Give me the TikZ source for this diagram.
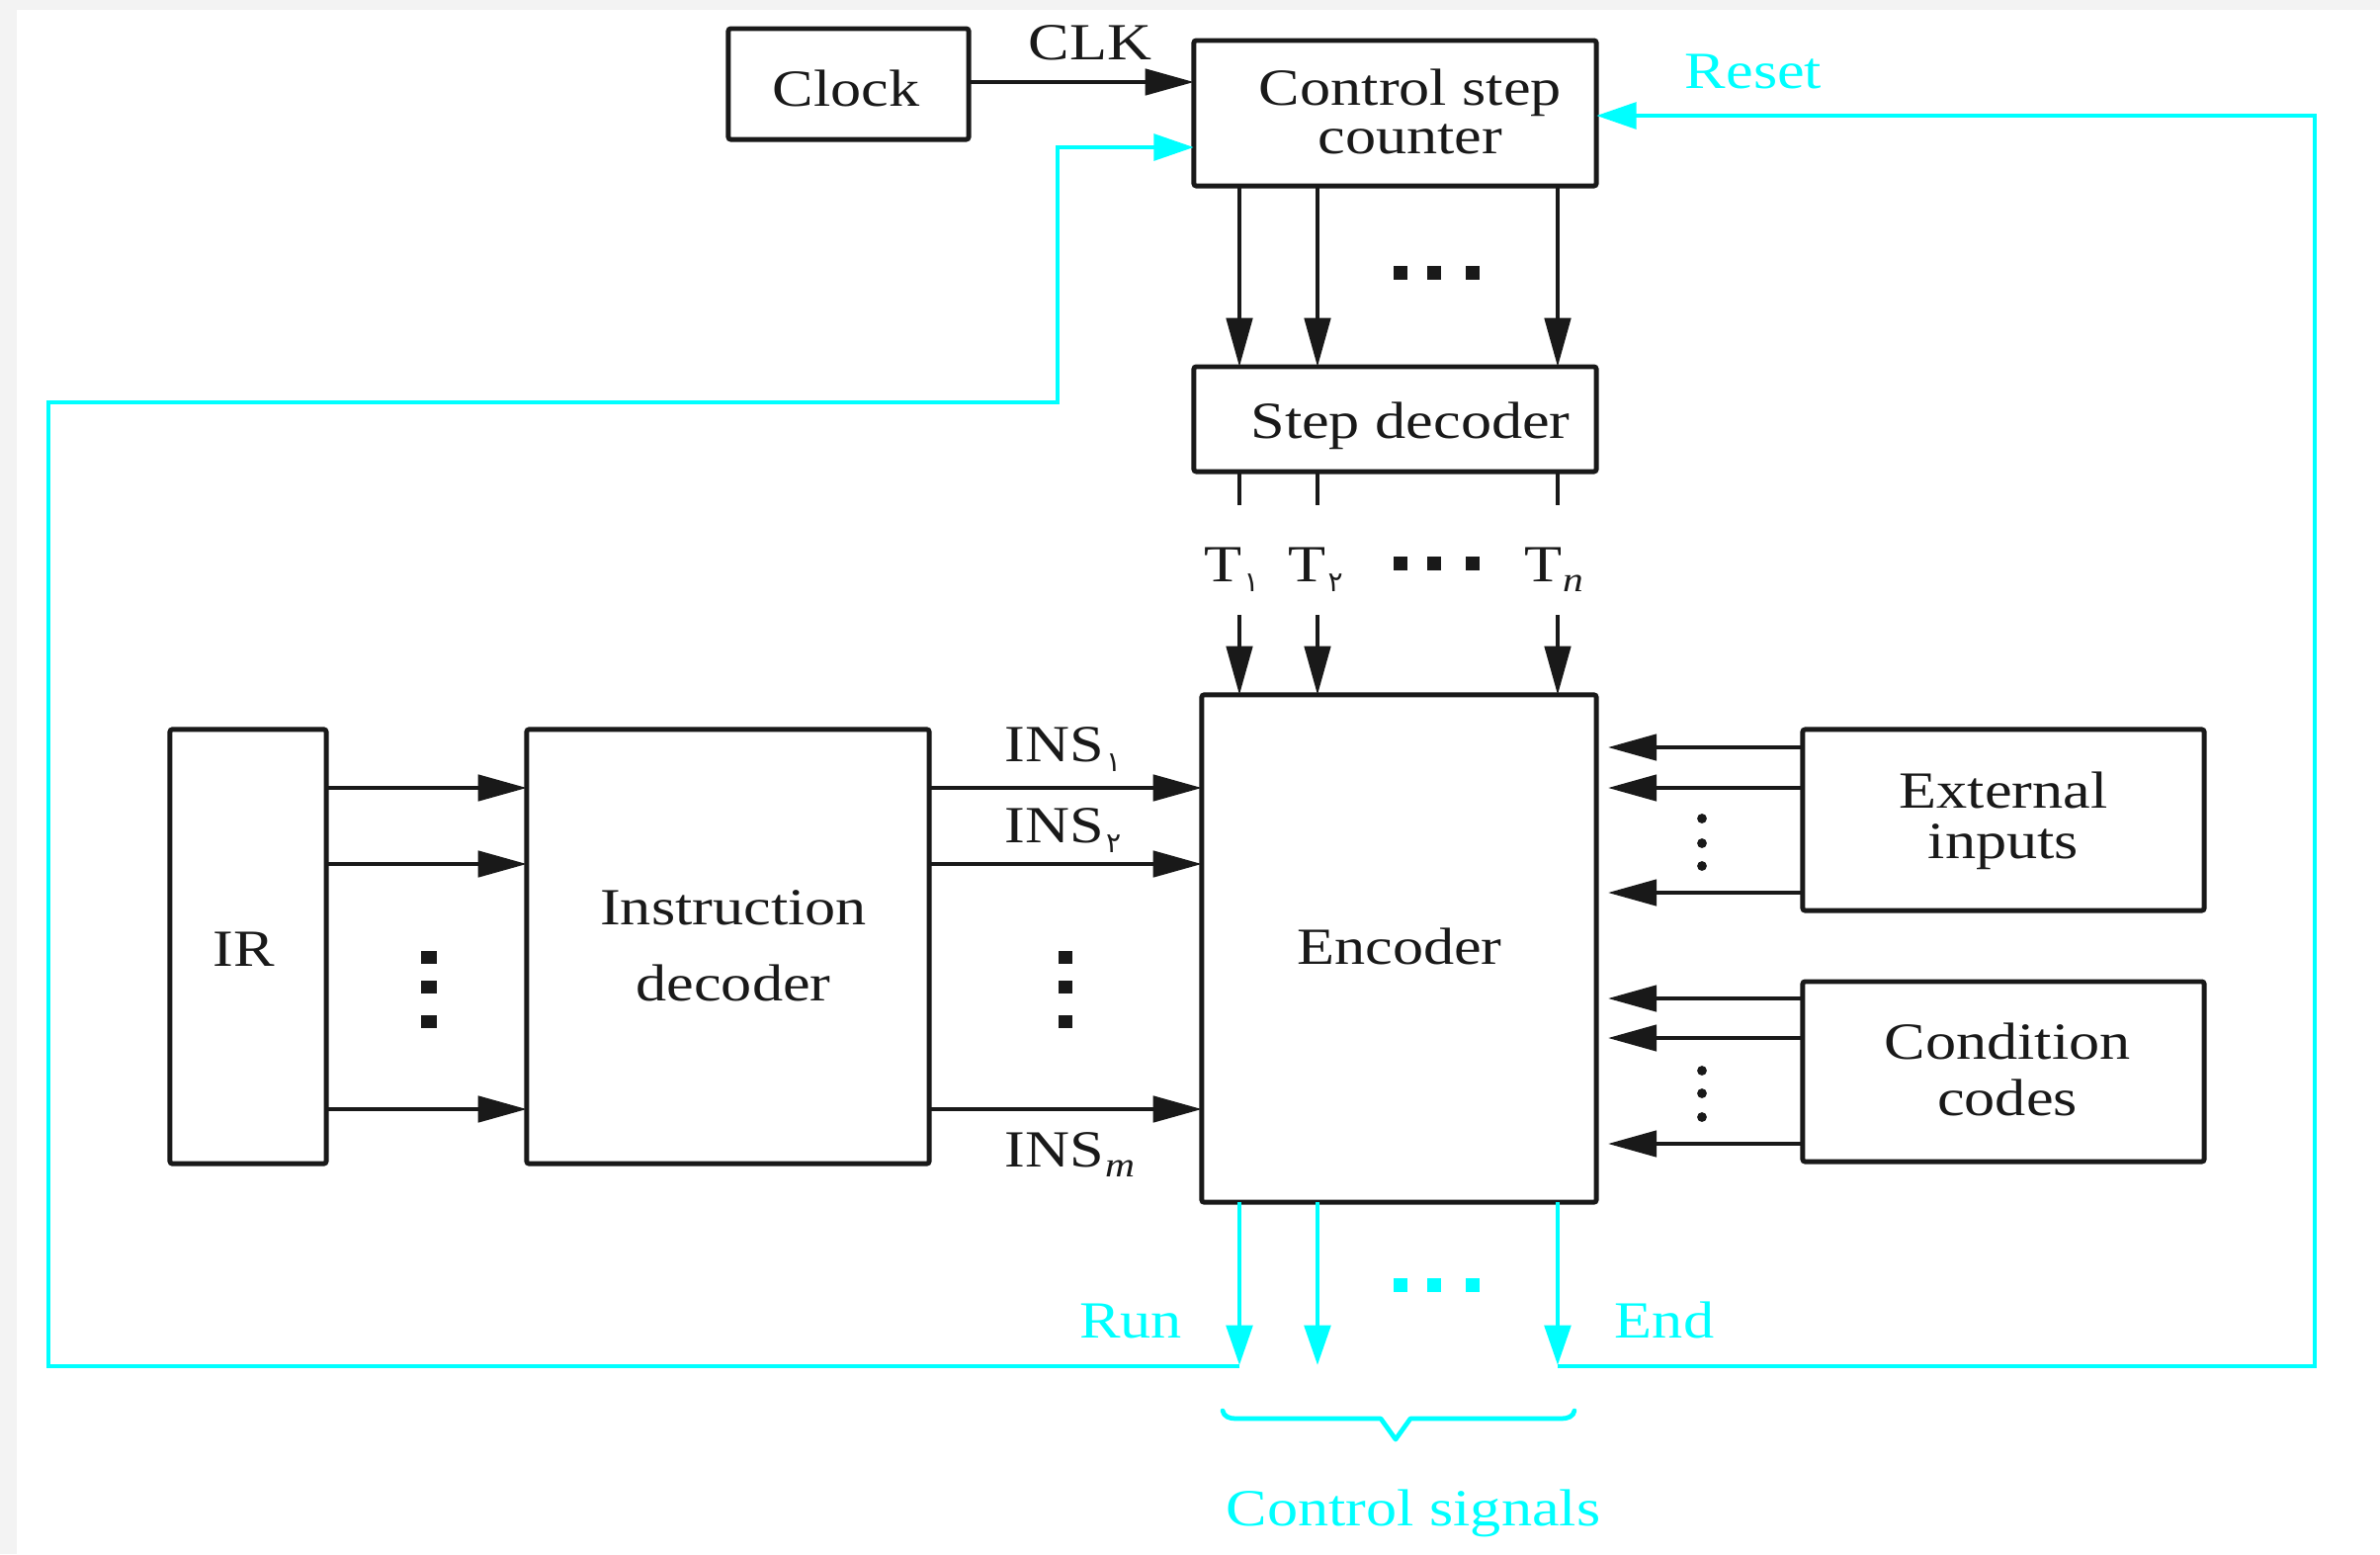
\documentclass[tikz,border=0pt]{standalone}
\usepackage{fontspec}
\setmainfont[FakeStretch=1.18]{Liberation Serif}
\newfontfamily\fadigits{DejaVu Sans}
\usetikzlibrary{arrows.meta,calc}
\definecolor{cy}{RGB}{0,255,255}
\definecolor{bggray}{RGB}{243,243,243}
\definecolor{ink}{RGB}{25,25,25}
\newcommand\subfa[1]{\kern0.6pt\raisebox{-3pt}{\fadigits\fontsize{8pt}{8pt}\selectfont #1}}
\newcommand\subit[1]{\kern0.3pt\raisebox{-3pt}{\fontsize{10pt}{10pt}\selectfont\itshape #1}}
\begin{document}
\begin{tikzpicture}[x=0.01cm,y=-0.01cm,
  box/.style={draw=ink,line width=1.4pt,inner sep=0pt,outer sep=0pt,rounded corners=0.7pt},
  txt/.style={font=\fontsize{15pt}{18pt}\selectfont,inner sep=0pt,text=ink,align=center},
  ctxt/.style={txt,text=cy},
  arr/.style={draw=ink,line width=1.05pt,-{Triangle[length=14pt,width=7.5pt]}},
  plain/.style={draw=ink,line width=1.05pt},
  carr/.style={draw=cy,line width=1.35pt,-{Triangle[length=11.5pt,width=7.5pt]}},
  cline/.style={draw=cy,line width=1.35pt},
]
% page
\fill[bggray] (0,0) rectangle (2408,1572);
\fill[white] (17,10) rectangle (2408,1572);
\useasboundingbox (0,0) rectangle (2408,1572);

% boxes
\node[box,minimum width=2.43cm,minimum height=1.12cm] (clock) at (858.5,85) {};
\node[box,minimum width=4.07cm,minimum height=1.47cm] (csc) at (1411.5,114.5) {};
\node[box,minimum width=4.07cm,minimum height=1.06cm] (sd) at (1411.5,424) {};
\node[box,minimum width=3.99cm,minimum height=5.13cm] (enc) at (1415.5,959.5) {};
\node[box,minimum width=1.58cm,minimum height=4.39cm] (ir) at (251,957.5) {};
\node[box,minimum width=4.07cm,minimum height=4.39cm] (id) at (736.5,957.5) {};
\node[box,minimum width=4.06cm,minimum height=1.83cm] (ei) at (2027,829.5) {};
\node[box,minimum width=4.06cm,minimum height=1.82cm] (cc) at (2027,1084) {};

% box texts
\node[txt,anchor=base] (clockt) at (856,107) {Clock};
\node[txt,font=\fontsize{15pt}{13.7pt}\selectfont] (csct) at (1427,113) {Control step\\counter};
\node[txt,anchor=base] (sdt) at (1427,443) {Step decoder};
\node[txt,anchor=base] (enct) at (1416,975) {Encoder};
\node[txt,anchor=base] (irt) at (247,977) {IR};
\node[txt,font=\fontsize{15pt}{21.9pt}\selectfont] (idt) at (742,957) {Instruction\\decoder};
\node[txt,font=\fontsize{15pt}{14.5pt}\selectfont] (eit) at (2027,830) {External\\inputs};
\node[txt,font=\fontsize{15pt}{16.2pt}\selectfont] (cct) at (2031,1082) {Condition\\codes};

% labels
\node[txt,anchor=base] (clk) at (1103,60) {CLK};
\node[ctxt,anchor=base] (reset) at (1774,89) {Reset};
\node[ctxt,anchor=base] (run) at (1144,1353) {Run};
\node[ctxt,anchor=base] (endl) at (1684,1353) {End};
\node[ctxt,anchor=base] (cs) at (1430,1543) {Control signals};
\node[txt,anchor=base] (t1) at (1246,588) {T\subfa{۱}};
\node[txt,anchor=base] (t2) at (1331,588) {T\subfa{۲}};
\node[txt,anchor=base] (tn) at (1572,588) {T\subit{n}};
\node[txt,anchor=base west] (ins1) at (1016,770) {INS\subfa{۱}};
\node[txt,anchor=base west] (ins2) at (1016,852) {INS\subfa{۲}};
\node[txt,anchor=base west] (insm) at (1016,1180) {INS\subit{m}};

% helper coordinates
\coordinate (v1) at (1254,0);
\coordinate (v2) at (1333,0);
\coordinate (v3) at (1576,0);
\coordinate (tstub) at (0,511);
\coordinate (tstart) at (0,622);
\coordinate (cyend) at (0,1381);
\coordinate (clky) at (0,83);
\coordinate (h1) at (0,797);
\coordinate (h2) at (0,874);
\coordinate (h3) at (0,1122);
\coordinate (etip) at (1627,0);
\coordinate (r1) at (0,756);
\coordinate (r2) at (0,797);
\coordinate (r3) at (0,903);
\coordinate (r4) at (0,1010);
\coordinate (r5) at (0,1050);
\coordinate (r6) at (0,1157);
\coordinate (runfoot) at (1254,1382);
\coordinate (endfoot) at (1576,1382);
\coordinate (fbl) at (49,407);
\coordinate (fbm) at (1070,149);
\coordinate (fbr) at (2342,117);

% clock
\draw[arr] (clock.east |- clky) -- (csc.west |- clky);

% counter -> step decoder -> encoder -> control signals
\foreach \v in {v1,v2,v3}{
  \draw[arr] (\v |- csc.south) -- (\v |- sd.north);
  \draw[plain] (\v |- sd.south) -- (\v |- tstub);
  \draw[arr] (\v |- tstart) -- (\v |- enc.north);
  \draw[carr] (\v |- enc.south) -- (\v |- cyend);
}

% IR -> ID -> encoder
\foreach \h in {h1,h2,h3}{
  \draw[arr] (ir.east |- \h) -- (id.west |- \h);
  \draw[arr] (id.east |- \h) -- (enc.west |- \h);
}

% external inputs / condition codes -> encoder
\foreach \r in {r1,r2,r3}{
  \draw[arr] (ei.west |- \r) -- (etip |- \r);
}
\foreach \r in {r4,r5,r6}{
  \draw[arr] (cc.west |- \r) -- (etip |- \r);
}

% feedback loops
\draw[carr] (runfoot) -| (fbl) -| (fbm) -- (fbm -| csc.west);
\draw[carr] (endfoot) -| (fbr) -- (fbr -| csc.east);

% dots
\foreach \x in {1417,1451,1490}{
  \fill[ink] (\x,276) +(-7,-7) rectangle +(7,7);
  \fill[ink] (\x,570) +(-7,-7) rectangle +(7,7);
  \fill[cy] (\x,1300) +(-7,-7) rectangle +(7,7);
}
\foreach \y in {968,998,1033}{
  \fill[ink] (434,\y) +(-8,-6.5) rectangle +(8,6.5);
  \fill[ink] (1078,\y) +(-7,-6.5) rectangle +(7,6.5);
}
\foreach \y in {828,853,876,1083,1106,1130}{
  \fill[ink] (1722,\y) circle[radius=1.4pt];
}

% brace
\draw[cy,line width=1.35pt,line cap=round,line join=round]
  (1237,1427) to[out=-80,in=180] (1250,1435) -- (1397,1435) -- (1412,1456)
  -- (1427,1435) -- (1580,1435) to[out=0,in=-100] (1593,1427);
\end{tikzpicture}
\end{document}
